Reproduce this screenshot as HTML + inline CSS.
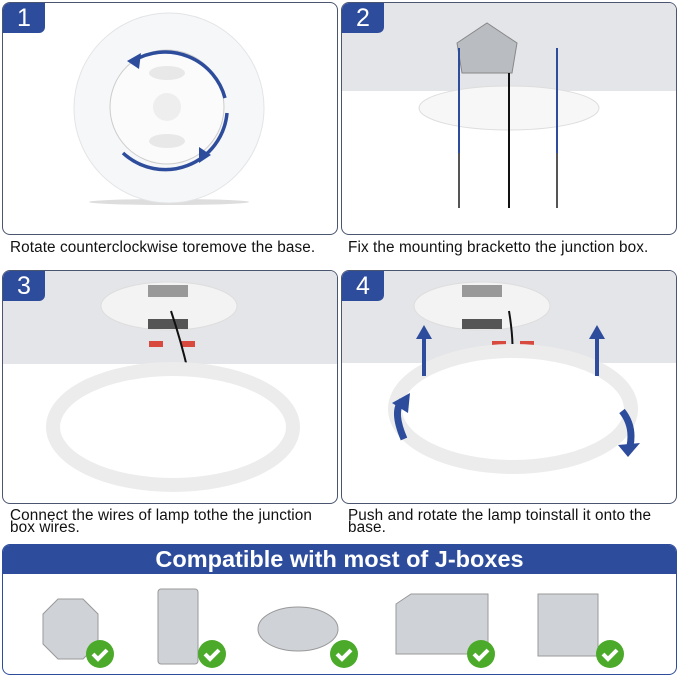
<!DOCTYPE html>
<html><head><meta charset="utf-8"><style>
body{margin:0;width:679px;height:676px;background:#fff;position:relative;overflow:hidden;font-family:"Liberation Sans","DejaVu Sans",sans-serif}
.p{position:absolute;border:1.3px solid #4a5570;border-radius:8px;overflow:hidden;background:#fff}
.g{position:absolute;left:0;right:0;top:0;background:#e4e5e8}
.b{position:absolute;left:0;top:0;width:42px;height:30px;background:#2d4c9c;color:#fff;font-size:25px;line-height:30px;text-align:center;border-bottom-right-radius:6px}
.c{position:absolute;font-size:15.3px;color:#111;line-height:12px;letter-spacing:0.1px;white-space:nowrap}
svg{position:absolute;left:0;top:0}
</style></head><body>
<div class="p" style="left:2px;top:2px;width:334px;height:231px">
<svg width="334" height="231"><ellipse cx="166" cy="199" rx="80" ry="3" fill="#ddd"/>
<circle cx="166" cy="105" r="95" fill="#f6f7f8" stroke="#e3e4e6"/><circle cx="164" cy="104" r="57" fill="#fbfbfb" stroke="#ccc"/>
<circle cx="164" cy="104" r="14" fill="#eee"/><ellipse cx="164" cy="70" rx="18" ry="7" fill="#e8e8e8"/><ellipse cx="164" cy="138" rx="18" ry="7" fill="#e8e8e8"/>
<path d="M130 58 A62 62 0 0 1 222 95" stroke="#2d4c9c" stroke-width="3.5" fill="none"/><path d="M224 110 A62 62 0 0 1 120 150" stroke="#2d4c9c" stroke-width="3.5" fill="none"/>
<polygon points="124,58 138,50 136,66" fill="#2d4c9c"/><polygon points="208,152 196,144 196,160" fill="#2d4c9c"/></svg>
<div class="b">1</div></div>
<div class="c" style="left:10px;top:242px">Rotate counterclockwise toremove the base.</div>

<div class="p" style="left:341px;top:2px;width:334px;height:231px">
<div class="g" style="height:88px"></div>
<svg width="334" height="231"><polygon points="115,40 145,20 175,40 170,70 120,70" fill="#b9bcc0" stroke="#888"/>
<ellipse cx="167" cy="105" rx="90" ry="22" fill="#f7f7f7" stroke="#ddd"/>
<line x1="117" y1="45" x2="117" y2="205" stroke="#555" stroke-width="2"/><line x1="215" y1="45" x2="215" y2="205" stroke="#555" stroke-width="2"/><line x1="167" y1="70" x2="167" y2="205" stroke="#111" stroke-width="2"/>
<line x1="117" y1="45" x2="117" y2="150" stroke="#2d4c9c" stroke-width="2"/><line x1="215" y1="45" x2="215" y2="150" stroke="#2d4c9c" stroke-width="2"/></svg>
<div class="b">2</div></div>
<div class="c" style="left:348px;top:242px">Fix the mounting bracketto the junction box.</div>

<div class="p" style="left:2px;top:270px;width:334px;height:232px">
<div class="g" style="height:93px"></div>
<svg width="334" height="232"><ellipse cx="166" cy="35" rx="68" ry="24" fill="#f3f3f3" stroke="#ddd"/><rect x="145" y="14" width="40" height="12" fill="#999"/><rect x="145" y="48" width="40" height="10" fill="#555"/>
<rect x="146" y="70" width="14" height="6" fill="#d94a3e"/><rect x="178" y="70" width="14" height="6" fill="#d94a3e"/><path d="M168 40 Q178 70 185 100" stroke="#111" stroke-width="2" fill="none"/>
<ellipse cx="170" cy="156" rx="120" ry="58" fill="#fff" stroke="#ececec" stroke-width="14"/></svg>
<div class="b">3</div></div>
<div class="c" style="left:10px;top:510px">Connect the wires of lamp tothe the junction<br>box wires.</div>

<div class="p" style="left:341px;top:270px;width:334px;height:232px">
<div class="g" style="height:92px"></div>
<svg width="334" height="232"><ellipse cx="140" cy="35" rx="68" ry="24" fill="#f3f3f3" stroke="#ddd"/><rect x="120" y="14" width="40" height="12" fill="#999"/><rect x="120" y="48" width="40" height="10" fill="#555"/>
<rect x="150" y="70" width="14" height="6" fill="#d94a3e"/><rect x="178" y="70" width="14" height="6" fill="#d94a3e"/><path d="M167 40 Q172 70 170 92" stroke="#111" stroke-width="2" fill="none"/>
<ellipse cx="171" cy="138" rx="118" ry="58" fill="#fff" stroke="#ececec" stroke-width="14"/>
<rect x="80" y="65" width="4" height="40" fill="#2d4c9c"/><polygon points="74,68 82,54 90,68" fill="#2d4c9c"/>
<rect x="253" y="65" width="4" height="40" fill="#2d4c9c"/><polygon points="247,68 255,54 263,68" fill="#2d4c9c"/>
<path d="M62 168 Q50 140 60 130" stroke="#2d4c9c" stroke-width="7" fill="none"/><polygon points="50,132 68,122 66,142" fill="#2d4c9c"/>
<path d="M280 140 Q292 155 288 175" stroke="#2d4c9c" stroke-width="7" fill="none"/><polygon points="276,174 298,172 286,186" fill="#2d4c9c"/></svg>
<div class="b">4</div></div>
<div class="c" style="left:348px;top:510px">Push and rotate the lamp toinstall it onto the<br>base.</div>

<div style="position:absolute;left:2px;top:544px;width:673px;height:129px;border:1.5px solid #2d4c9c;border-radius:8px;overflow:hidden">
<div style="background:#2d4c9c;height:29px;color:#fff;font-weight:bold;font-size:23.5px;line-height:29px;text-align:center">Compatible with most of J-boxes</div>
<svg width="673" height="100" style="top:29px">
<g fill="#cfd2d6" stroke="#999">
<polygon points="40,40 55,25 80,25 95,40 95,70 80,85 55,85 40,70"/>
<rect x="155" y="15" width="40" height="75" rx="3"/>
<ellipse cx="295" cy="55" rx="40" ry="22"/>
<polygon points="393,30 408,20 485,20 485,70 470,80 393,80"/>
<rect x="535" y="20" width="60" height="62"/></g>
<g fill="#4caa2a"><circle cx="97" cy="80" r="14"/><circle cx="209" cy="80" r="14"/><circle cx="341" cy="80" r="14"/><circle cx="478" cy="80" r="14"/><circle cx="607" cy="80" r="14"/></g>
<g stroke="#fff" stroke-width="4" fill="none"><path d="M90 80l5 5 9-9"/><path d="M202 80l5 5 9-9"/><path d="M334 80l5 5 9-9"/><path d="M471 80l5 5 9-9"/><path d="M600 80l5 5 9-9"/></g></svg>
</div>
</body></html>
